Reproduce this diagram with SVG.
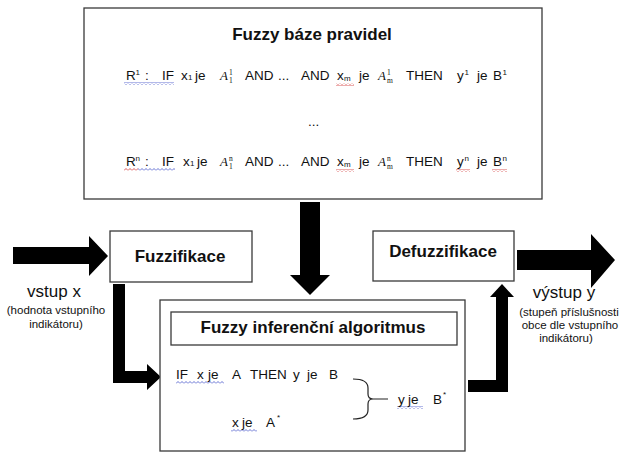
<svg xmlns="http://www.w3.org/2000/svg" width="619" height="452" viewBox="0 0 619 452">
<defs>
<style>
.box{fill:#fff;stroke:#3a3a3a;stroke-width:1.3}
.t{font-family:"Liberation Sans",Arial,sans-serif;fill:#111}
.title{font-size:17px;font-weight:bold}
.r{font-size:13.5px}
.sm{font-size:8px}
.m{font-family:"Liberation Serif","Times New Roman",serif;font-style:italic;font-size:13px;fill:#111}
.ms{font-family:"Liberation Serif","Times New Roman",serif;font-size:7.5px;fill:#111}
.lbl{font-size:17px}
.note{font-size:11.5px}
.arrow{fill:#000}
.wb{fill:url(#wavyBlue)}
.wr{fill:url(#wavyRed)}
</style>
<pattern id="wavyBlue" patternUnits="userSpaceOnUse" width="4" height="3">
<path d="M0,2.5 L2,0.5 L4,2.5" fill="none" stroke="#4050c8" stroke-width="0.8"/>
</pattern>
<pattern id="wavyRed" patternUnits="userSpaceOnUse" width="4" height="3">
<path d="M0,2.5 L2,0.5 L4,2.5" fill="none" stroke="#d03030" stroke-width="0.8"/>
</pattern>
</defs>
<rect width="619" height="452" fill="#fff"/>

<g id="connectors">
<polygon class="arrow" points="13,247 89,247 89,236 108,256 89,276 89,264 13,264"/>
<polygon class="arrow" points="300,202 320,202 320,275 330,275 310,295 290,275 300,275"/>
<polygon class="arrow" points="113,284 125,284 125,371 147,371 147,364 161,377 147,390 147,383 113,383"/>
<polygon class="arrow" points="468,380 496,380 496,297 490,297 502,284 514,297 508,297 508,392 468,392"/>
<polygon class="arrow" points="517,250 591,250 591,234 615,260 591,288 591,270 517,270"/>
</g>

<g id="labels">
<text class="t lbl" x="54" y="297" text-anchor="middle">vstup x</text>
<text class="t note" x="56" y="314" text-anchor="middle">(hodnota vstupního</text>
<text class="t note" x="56" y="328" text-anchor="middle">indikátoru)</text>
<text class="t lbl" x="564" y="298" text-anchor="middle">výstup y</text>
<text class="t note" x="569" y="316" text-anchor="middle">(stupeň příslušnosti</text>
<text class="t note" x="570" y="329" text-anchor="middle">obce dle vstupního</text>
<text class="t note" x="566" y="342" text-anchor="middle">indikátoru)</text>
</g>

<g id="rulebase">
<rect class="box" x="84" y="8" width="458" height="191"/>
<text class="t title" x="312" y="40" text-anchor="middle">Fuzzy báze pravidel</text>
<rect class="wb" x="124" y="82" width="50" height="3"/>
<rect class="wr" x="336" y="83" width="18" height="3"/>
<text class="t r" x="126" y="80">R</text><text class="t sm" x="135.5" y="75">1</text>
<text class="t r" x="145" y="80">:</text>
<text class="t r" x="162" y="80">IF</text>
<text class="t r" x="181" y="80">x</text><text class="t sm" x="188" y="80">1</text>
<text class="t r" x="195" y="80">je</text>
<text class="m" x="220" y="80">A</text><text class="ms" x="229" y="75">1</text><text class="ms" x="229" y="83">1</text>
<text class="t r" x="245" y="80">AND</text>
<text class="t r" x="278" y="80">...</text>
<text class="t r" x="301" y="80">AND</text>
<text class="t r" x="337" y="80">x</text><text class="t sm" x="344" y="81">m</text>
<text class="t r" x="359" y="80">je</text>
<text class="m" x="378" y="80">A</text><text class="ms" x="387" y="75">1</text><text class="ms" x="387" y="83">m</text>
<text class="t r" x="406" y="80">THEN</text>
<text class="t r" x="457" y="80">y</text><text class="t sm" x="464.5" y="75">1</text>
<text class="t r" x="477" y="80">je</text>
<text class="t r" x="493" y="80">B</text><text class="t sm" x="502.5" y="75">1</text>

<text class="t r" x="308" y="126">...</text>

<rect class="wr" x="124" y="168" width="14" height="3"/>
<rect class="wb" x="138" y="168" width="37" height="3"/>
<rect class="wr" x="336" y="169" width="18" height="3"/>
<rect class="wr" x="456" y="169" width="14" height="3"/>
<rect class="wr" x="492" y="169" width="15" height="3"/>
<text class="t r" x="126" y="166">R</text><text class="t sm" x="135.5" y="161">n</text>
<text class="t r" x="145" y="166">:</text>
<text class="t r" x="162" y="166">IF</text>
<text class="t r" x="183" y="166">x</text><text class="t sm" x="190" y="166">1</text>
<text class="t r" x="197" y="166">je</text>
<text class="m" x="220" y="166">A</text><text class="ms" x="229" y="161">n</text><text class="ms" x="229" y="169">1</text>
<text class="t r" x="245" y="166">AND</text>
<text class="t r" x="278" y="166">...</text>
<text class="t r" x="301" y="166">AND</text>
<text class="t r" x="337" y="166">x</text><text class="t sm" x="344" y="167">m</text>
<text class="t r" x="359" y="166">je</text>
<text class="m" x="378" y="166">A</text><text class="ms" x="387" y="161">n</text><text class="ms" x="387" y="169">m</text>
<text class="t r" x="406" y="166">THEN</text>
<text class="t r" x="457" y="166">y</text><text class="t sm" x="464.5" y="161">n</text>
<text class="t r" x="477" y="166">je</text>
<text class="t r" x="493" y="166">B</text><text class="t sm" x="502.5" y="161">n</text>
</g>

<g id="fuzzifikace">
<rect class="box" x="110" y="231" width="142" height="51"/>
<text class="t title" x="180" y="262" text-anchor="middle">Fuzzifikace</text>
</g>

<g id="defuzzifikace">
<rect class="box" x="373" y="231" width="141" height="50"/>
<text class="t title" x="443" y="257" text-anchor="middle">Defuzzifikace</text>
</g>

<g id="inference">
<rect class="box" x="160" y="300" width="305" height="151"/>
<rect class="box" x="171" y="312" width="286" height="33"/>
<text class="t title" x="313" y="333" text-anchor="middle">Fuzzy inferenční algoritmus</text>
<rect class="wb" x="176" y="381" width="48" height="3"/>
<text class="t r" x="176" y="379">IF</text>
<text class="t r" x="197" y="379">x</text>
<text class="t r" x="208" y="379">je</text>
<text class="t r" x="232" y="379">A</text>
<text class="t r" x="250" y="379">THEN</text>
<text class="t r" x="293" y="379">y</text>
<text class="t r" x="307" y="379">je</text>
<text class="t r" x="329" y="379">B</text>
<rect class="wb" x="231" y="429" width="26" height="3"/>
<text class="t r" x="232" y="427">x</text>
<text class="t r" x="242" y="427">je</text>
<text class="t r" x="266" y="427">A</text><text class="t sm" x="277" y="420">*</text>
<path d="M353,379 Q368,379 368,388 L368,394 Q368,399 373,399 L388,399 M373,399 Q368,399 368,404 L368,410 Q368,419 353,419" fill="none" stroke="#222" stroke-width="1.2"/>
<rect class="wb" x="397" y="406" width="26" height="3"/>
<text class="t r" x="398" y="404">y</text>
<text class="t r" x="408" y="404">je</text>
<text class="t r" x="433" y="404">B</text><text class="t sm" x="443" y="397">*</text>
</g>
</svg>
